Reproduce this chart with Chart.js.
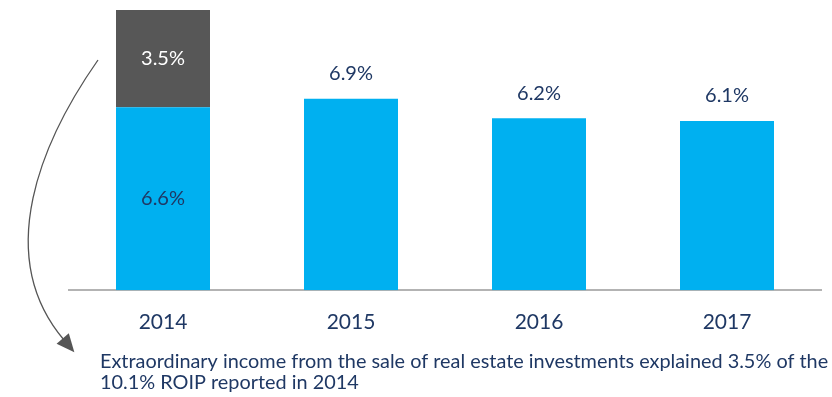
<!DOCTYPE html>
<html>
<head>
<meta charset="utf-8">
<script src="https://cdn.jsdelivr.net/npm/chart.js@4.4.1/dist/chart.umd.min.js"></script>
<style>
  html, body { margin: 0; padding: 0; background: #ffffff; }
  #wrap { position: relative; width: 832px; height: 397px; }
</style>
</head>
<body>
<div id="wrap"><canvas id="roip"></canvas></div>
<script>
// ROIP by year: recurring part plus the 2014 one-off from real estate sales
const years = ['2014', '2015', '2016', '2017'];
const recurring = [6.6, 6.9, 6.2, 6.1];
const extraordinary = [3.5, null, null, null];
const note = [
  'Extraordinary income from the sale of real estate investments explained 3.5% of the',
  '10.1% ROIP reported in 2014'
];

const BLUE = '#00b0f0';
const GREY = '#575757';
const NAVY = '#1f3864';
const FONT = 'Lato, "Open Sans", sans-serif';

const fmt = v => v.toFixed(1) + '%';

// Value labels: inside the stacked 2014 segments, above the single bars
const valueLabels = {
  id: 'valueLabels',
  afterDatasetsDraw(chart) {
    const ctx = chart.ctx;
    ctx.save();
    ctx.font = '20px ' + FONT;
    ctx.textAlign = 'center';
    ctx.textBaseline = 'middle';
    const baseMeta = chart.getDatasetMeta(0);
    const extraMeta = chart.getDatasetMeta(1);
    baseMeta.data.forEach((bar, i) => {
      const v = recurring[i];
      const extra = extraordinary[i];
      if (extra != null) {
        ctx.fillStyle = NAVY;
        ctx.fillText(fmt(v), bar.x, (bar.y + bar.base) / 2);
        const top = extraMeta.data[i];
        ctx.fillStyle = '#ffffff';
        ctx.fillText(fmt(extra), top.x, (top.y + top.base) / 2);
      } else {
        ctx.fillStyle = NAVY;
        ctx.fillText(fmt(v), bar.x, bar.y - 25);
      }
    });
    ctx.restore();
  }
};

// Curved pointer from the 2014 bar down to the explanatory note, and the note itself
const noteAndArrow = {
  id: 'noteAndArrow',
  afterDraw(chart) {
    const ctx = chart.ctx;
    ctx.save();
    // curve
    const p0 = [98, 60], c1 = [42, 140], c2 = [-8, 255], p3 = [64, 340];
    ctx.strokeStyle = '#555555';
    ctx.lineWidth = 1.3;
    ctx.beginPath();
    ctx.moveTo(p0[0], p0[1]);
    ctx.bezierCurveTo(c1[0], c1[1], c2[0], c2[1], p3[0], p3[1]);
    ctx.stroke();
    // arrow head along the final tangent
    const ang = Math.atan2(p3[1] - c2[1], p3[0] - c2[0]);
    const tip = [p3[0] + 16 * Math.cos(ang), p3[1] + 16 * Math.sin(ang)];
    const len = 18, half = 8;
    const bx = tip[0] - len * Math.cos(ang), by = tip[1] - len * Math.sin(ang);
    ctx.fillStyle = '#555555';
    ctx.beginPath();
    ctx.moveTo(tip[0], tip[1]);
    ctx.lineTo(bx + half * Math.sin(ang), by - half * Math.cos(ang));
    ctx.lineTo(bx - half * Math.sin(ang), by + half * Math.cos(ang));
    ctx.closePath();
    ctx.fill();

    // note text, sized to span the line width
    const target = 729;
    ctx.font = '18px ' + FONT;
    const w = ctx.measureText(note[0]).width;
    const size = 18 * target / w;
    ctx.font = size.toFixed(2) + 'px ' + FONT;
    ctx.fillStyle = NAVY;
    ctx.textAlign = 'left';
    ctx.textBaseline = 'alphabetic';
    ctx.fillText(note[0], 100, 368);
    ctx.fillText(note[1], 100, 389);
    ctx.restore();
  }
};

new Chart(document.getElementById('roip'), {
  type: 'bar',
  data: {
    labels: years,
    datasets: [
      { label: 'Recurring', data: recurring, backgroundColor: BLUE, stack: 's' },
      { label: 'Extraordinary', data: extraordinary, backgroundColor: GREY, stack: 's' }
    ]
  },
  options: {
    responsive: true,
    maintainAspectRatio: false,
    animation: false,
    events: [],
    layout: { padding: { left: 69, right: 11, top: 10, bottom: 43.5 } },
    datasets: { bar: { barPercentage: 1, categoryPercentage: 0.5 } },
    plugins: { legend: { display: false }, tooltip: { enabled: false } },
    scales: {
      x: {
        stacked: true,
        grid: { display: false, drawTicks: false },
        border: { display: true, color: '#b3b3b3', width: 2 },
        ticks: { color: NAVY, font: { family: FONT, size: 21 }, padding: 19 }
      },
      y: {
        stacked: true,
        display: false,
        min: 0,
        max: 10.1
      }
    }
  },
  plugins: [valueLabels, noteAndArrow]
});
</script>
</body>
</html>
